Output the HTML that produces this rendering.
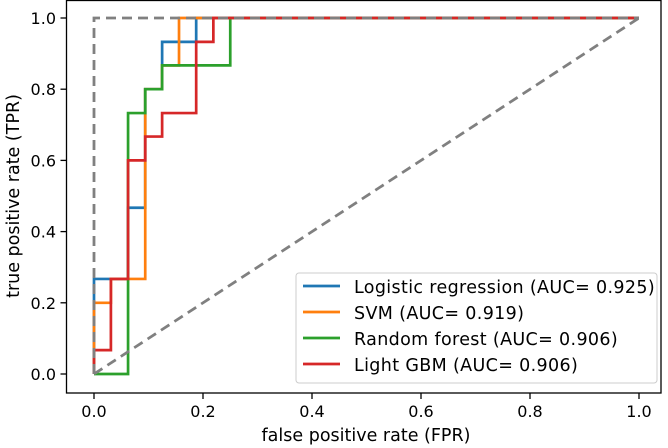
<!DOCTYPE html>
<html><head><meta charset="utf-8"><style>
body{margin:0;background:#fff}
svg{display:block;font-family:"DejaVu Sans","Liberation Sans",sans-serif}
</style></head><body>
<svg id="chart" width="668" height="448" viewBox="0 0 668 448">
<rect x="66.5" y="0.5" width="594.5" height="392.5" fill="none" stroke="#000" stroke-width="1.3"/>
<g id="axes"></g>
<g id="lines"></g>
<text x="366" y="441" font-size="17.5" text-anchor="middle">false positive rate (FPR)</text>
<text transform="translate(19,196) rotate(-90)" font-size="17.5" text-anchor="middle">true positive rate (TPR)</text>
<g id="legend"></g>
</svg>
<script>
const xTicks=[0,0.2,0.4,0.6,0.8,1.0];
const yTicks=[0,0.2,0.4,0.6,0.8,1.0];
const names=["Logistic regression (AUC= 0.925)","SVM (AUC= 0.919)","Random forest (AUC= 0.906)","Light GBM (AUC= 0.906)"];
const colors=["#1f77b4","#ff7f0e","#2ca02c","#d62728"];
const lrFPR=[0,0,0.0625,0.0625,0.094,0.094,0.125,0.125,0.1875,0.1875,1];
const lrTPR=[0,0.267,0.267,0.467,0.467,0.8,0.8,0.933,0.933,1,1];
const svmFPR=[0,0,0.031,0.031,0.094,0.094,0.125,0.125,0.156,0.156,1];
const svmTPR=[0,0.2,0.2,0.267,0.267,0.8,0.8,0.867,0.867,1,1];
const rfFPR=[0,0.0625,0.0625,0.094,0.094,0.125,0.125,0.25,0.25,1];
const rfTPR=[0,0,0.733,0.733,0.8,0.8,0.867,0.867,1,1];
const gbmFPR=[0,0,0.031,0.031,0.0625,0.0625,0.094,0.094,0.125,0.125,0.1875,0.1875,0.219,0.219,1];
const gbmTPR=[0,0.067,0.067,0.267,0.267,0.6,0.6,0.667,0.667,0.733,0.733,0.933,0.933,1,1];
const series=[[lrFPR,lrTPR],[svmFPR,svmTPR],[rfFPR,rfTPR],[gbmFPR,gbmTPR]];
const sx=v=>94+v*545, sy=v=>374-v*356;
const NS="http://www.w3.org/2000/svg";
function mk(t,a,p){const e=document.createElementNS(NS,t);for(const k in a)e.setAttribute(k,a[k]);p.appendChild(e);return e;}
const ax=document.getElementById('axes');
xTicks.forEach(v=>{
 const l=mk('line',{x1:sx(v),x2:sx(v),y1:393,y2:399,stroke:'#000','stroke-width':1.3},ax);
 
 
 const t=mk('text',{x:sx(v),y:417,'font-size':16,'text-anchor':'middle'},ax);t.textContent=v.toFixed(1);
 
 
});
yTicks.forEach(v=>{
 const l=mk('line',{x1:60.5,x2:66.5,y1:sy(v),y2:sy(v),stroke:'#000','stroke-width':1.3},ax);
 
 
 const t=mk('text',{x:56,y:sy(v)+6,'font-size':16,'text-anchor':'end'},ax);t.textContent=v.toFixed(1);
 
 
});
const lg=document.getElementById('lines');
const sn=['roc-logistic-regression','roc-svm','roc-random-forest','roc-light-gbm'];
series.forEach((s,i)=>{
 const pts=s[0].map((f,j)=>sx(f)+','+sy(s[1][j])).join(' ');
 const p=mk('polyline',{points:pts,fill:'none',stroke:colors[i],'stroke-width':2.7},lg);
 
 
});
const d1=mk('polyline',{points:`${sx(0)},${sy(0)} ${sx(1)},${sy(1)}`,fill:'none',stroke:'#808080','stroke-width':2.8,'stroke-dasharray':'10,6'},lg);


const d2=mk('polyline',{points:`${sx(0)},${sy(0)} ${sx(0)},${sy(1)} ${sx(1)},${sy(1)}`,fill:'none',stroke:'#808080','stroke-width':2.8,'stroke-dasharray':'10,6'},lg);


const leg=document.getElementById('legend');
const box=mk('rect',{x:296,y:273,width:361,height:110,rx:3,fill:'#fff','fill-opacity':0.8,stroke:'#ccc'},leg);


names.forEach((n,i)=>{
 const y=286+i*26;
 const l=mk('line',{x1:303,x2:340,y1:y,y2:y,stroke:colors[i],'stroke-width':2.7},leg);
 
 
 const t=mk('text',{x:354,y:y+7,'font-size':17.5,'letter-spacing':0.35},leg);t.textContent=n;
 
 
});
</script>
</body></html>
